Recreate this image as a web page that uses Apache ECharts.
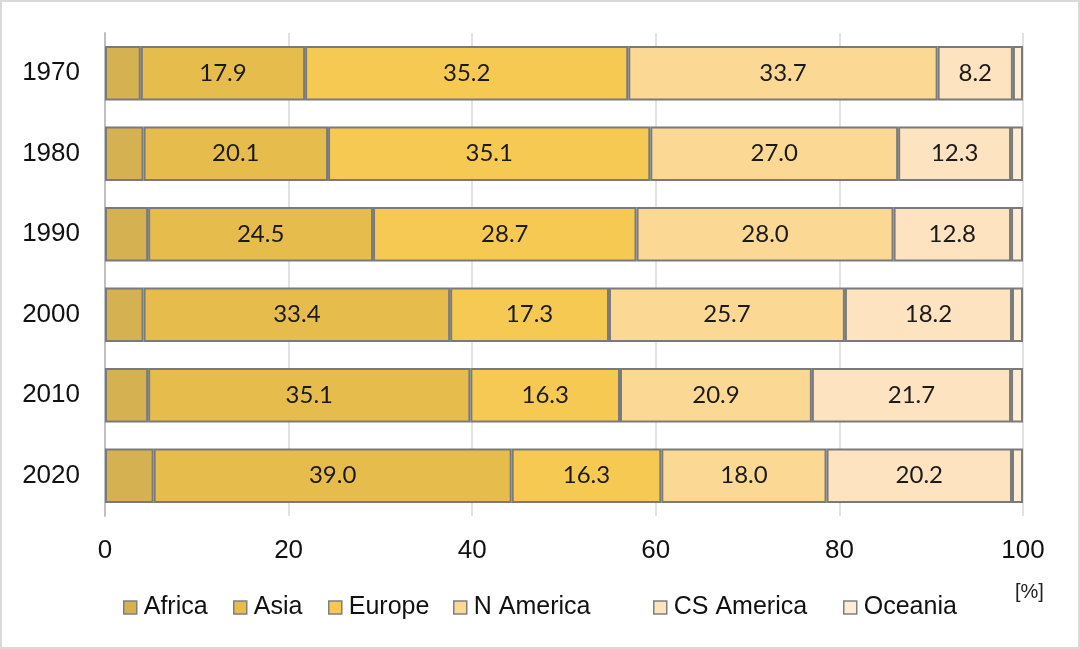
<!DOCTYPE html>
<html>
<head>
<meta charset="utf-8">
<script src="https://cdn.jsdelivr.net/npm/echarts@6/dist/echarts.min.js"></script>
<style>
  html, body { margin: 0; padding: 0; background: #fff; }
  #chart { width: 1080px; height: 649px; box-sizing: border-box; border: 2px solid #d9d9d9; }
</style>
</head>
<body>
<div id="chart"></div>
<script>
const years = ['1970', '1980', '1990', '2000', '2010', '2020']
const africa = [3.9, 4.2, 4.7, 4.2, 4.7, 5.3]
const asia = [17.9, 20.1, 24.5, 33.4, 35.1, 39.0]
const europe = [35.2, 35.1, 28.7, 17.3, 16.3, 16.3]
const nAmerica = [33.7, 27.0, 28.0, 25.7, 20.9, 18.0]
const csAmerica = [8.2, 12.3, 12.8, 18.2, 21.7, 20.2]
const oceania = [1.1, 1.3, 1.3, 1.2, 1.3, 1.2]
const xTicks = [0, 20, 40, 60, 80, 100]

const regions = [
  { name: 'Africa', data: africa, color: '#d5b152', label: false, legendX: 121 },
  { name: 'Asia', data: asia, color: '#e6bd4c', label: true, legendX: 231 },
  { name: 'Europe', data: europe, color: '#f6ca52', label: true, legendX: 326 },
  { name: 'N America', data: nAmerica, color: '#fbd994', label: true, legendX: 451 },
  { name: 'CS America', data: csAmerica, color: '#fde3bf', label: true, legendX: 651 },
  { name: 'Oceania', data: oceania, color: '#fdecd6', label: false, legendX: 841 }
]

const chart = echarts.init(document.getElementById('chart'))

// one legend per item so the spacing follows the original layout
const legends = regions.map(r => ({
  bottom: 22,
  left: r.legendX - 5,
  itemWidth: 13,
  itemHeight: 13,
  icon: 'rect',
  textStyle: { fontFamily: 'Liberation Sans, Arial', fontSize: 25, color: '#111', padding: [0, 0, 0, 2] },
  data: [{ name: r.name, itemStyle: { borderColor: '#7f7f7f', borderWidth: 1.5 } }]
}))

chart.setOption({
  animation: false,
  grid: { left: 103, right: 55, top: 31, bottom: 131, containLabel: false },
  legend: legends,
  graphic: [{
    type: 'text', left: 1013, top: 580,
    style: { text: '[%]', fontFamily: 'Liberation Sans, Arial', fontSize: 20, fill: '#222' }
  }],
  xAxis: {
    type: 'value', min: 0, max: 100, interval: 20,
    axisLine: { show: false },
    axisTick: { show: false },
    splitLine: { lineStyle: { color: '#d9d9d9', width: 1.5 } },
    axisLabel: {
      fontFamily: 'Liberation Sans, Arial', fontSize: 26, color: '#111', margin: 22,
      formatter: v => xTicks.includes(v) ? String(v) : ''
    }
  },
  yAxis: {
    type: 'category', data: years, inverse: true,
    axisLine: { show: true, lineStyle: { color: '#bfbfbf', width: 2 } },
    axisTick: { show: false },
    axisLabel: { fontFamily: 'Liberation Sans, Arial', fontSize: 26, color: '#111', margin: 25 }
  },
  series: regions.map(r => ({
    name: r.name,
    type: 'bar',
    stack: 'total',
    barCategoryGap: '32%',
    data: r.data,
    itemStyle: { color: r.color, borderColor: '#7a7a7a', borderWidth: 2 },
    label: {
      show: r.label, position: 'inside',
      fontFamily: 'Lato, Carlito, Calibri, sans-serif', fontSize: 24, color: '#1a1a1a',
      formatter: p => p.value.toFixed(1)
    }
  }))
})
</script>
</body>
</html>
